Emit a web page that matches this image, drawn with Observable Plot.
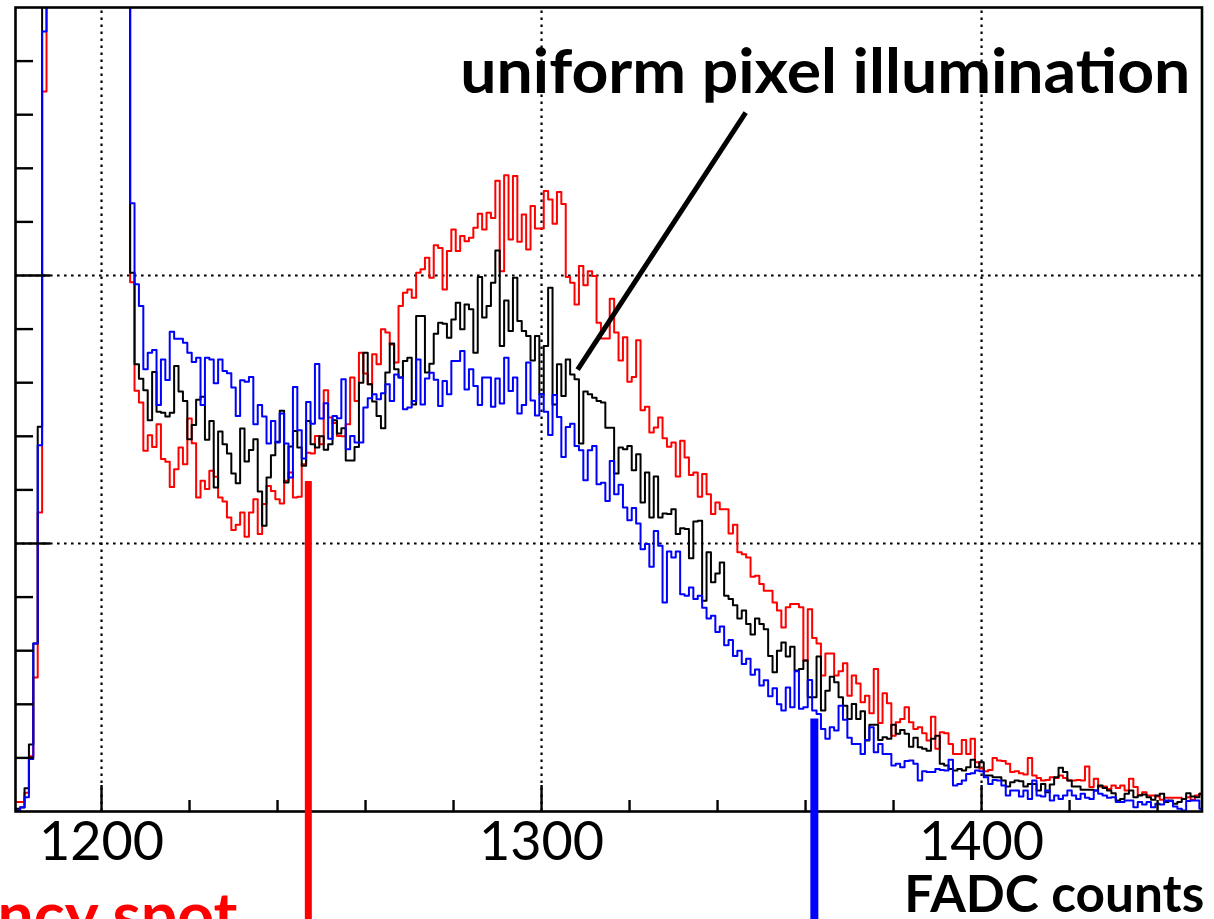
<!DOCTYPE html>
<html><head><meta charset="utf-8">
<script src="https://cdn.jsdelivr.net/npm/d3@7"></script>
<script src="https://cdn.jsdelivr.net/npm/@observablehq/plot@0.6"></script>
<style>html,body{margin:0;padding:0;background:#fff;} svg{display:block}</style>
</head><body><div id="chart"></div>
<script>
// FADC count of the first bin (bins are 1 count wide, centred on integers)
const firstBin = 1181;
// values above 300 are off scale (pedestal peak) and get clipped by the frame
const redCounts = [
3.5,3.5,7,20.6,50,111.6,268.7,1500,1500,1500,
1500,1500,1500,1500,1500,1500,1500,1500,1500,1500,
1500,1500,1500,1500,1500,1500,197.5,157,152.6,134.6,
140.4,136,144.5,131.5,130.5,121.1,127.7,135.8,129.6,146.6,
137.4,117.2,123.4,120.3,127.1,124.9,117.2,115.7,109.7,105,
107,111.6,102.5,111.6,116.5,103.5,114.7,121.5,119.6,116.5,
114.9,123.4,126.5,117.2,117.4,129.6,133.9,133.6,140.1,137,
157.2,147,145,140.1,140,144.5,161.9,153.2,171.2,163.4,
159.4,170.6,166.9,179.9,178.7,174.3,167.5,188.6,193.6,194.8,
191.7,201,202.3,206.6,199.2,211.3,210.3,194.8,209.1,217.2,
209.1,214.7,212.8,214.1,217.8,223,217.2,223.4,221.5,235.4,
201.6,237.4,213.4,237.1,212.6,222.8,209.7,225.9,217.5,217.5,
231.5,228.4,219.3,231.2,226.7,199.4,197.3,189.2,203.5,196.4,
201.6,199.8,182.4,176.5,176.5,191.3,178.7,168.3,177,160.4,
162.1,175.8,149.7,151,141.4,143.3,147,139.3,136.1,137.7,
125,138.3,132.1,125.6,126.5,117.4,125.9,118.4,111,115.3,
112.8,112.8,103.7,107,96.7,96,94.8,87.6,88,84.9,
82.4,82.4,78,75,68.7,76.2,77.4,77.4,76.2,56.3,
75.5,64.7,62.7,50.7,59,59,50.7,52.3,55.3,43.2,
50.7,47.8,40.8,43.2,36.7,53.2,33,44.1,40.4,28.3,
33.3,34.5,38.9,33.3,30.8,31.4,29.2,26.5,35.4,23.4,
29.6,29.2,25.2,21.5,21.5,26.7,21.5,27.1,18.4,16,
15,15.5,20,19,18.8,17.8,14.7,15,14.3,13.8,
20,13.4,12.5,11.6,11.8,12.8,12.5,13.4,12.5,11.6,
11.6,11.8,11.6,16.8,9.1,12.2,9.3,9.3,8.4,9.7,
8.8,9.7,7.8,12.2,9.1,6.2,7.2,6,6,5.6,
4.4,5.1,5.1,5.1,5.1,4.7,5.3,4.4,6,6.6
];
const blackCounts = [
1,1.5,8.7,25,62.7,143.6,1500,1500,1500,1500,
1500,1500,1500,1500,1500,1500,1500,1500,1500,1500,
1500,1500,1500,1500,1500,1500,201,166.9,161.5,157.2,
146,164,149.2,148.8,147.4,148.8,166.2,156.7,153.2,138.9,
144.2,153.6,154.8,138.7,145.7,120.9,141.8,137,133.6,126.1,
122.5,142.9,130.6,134.9,138.9,119.4,106.6,124.6,132.9,138,
149.5,122.8,136.2,142,135.8,129,145.7,137,135.8,140,
135,137,146,141,143,131,131,136,160,171.2,
159.4,153,147.6,143,163.8,174.6,165,161.9,168.1,169.3,
151.9,184.9,184.9,163.8,167.1,178.3,182.4,182,176.8,183.6,
189.8,179.9,189.2,187.4,171.2,199.4,184.3,188.6,197.3,209.3,
173.7,190.7,179.3,199.2,183,179.3,177.4,168.3,177.4,155.7,
173.7,195.4,151.9,166.9,155,168.7,163.1,161.3,137.3,156.7,
155.7,154.4,153.2,152.6,143.2,143.2,126.1,135.8,135.2,136.4,
127.3,133.3,115.3,126.5,109.7,125,109.7,111.2,111,112.8,
103.5,105.7,105.4,94.5,108.2,108.5,78.6,96.7,85.5,88.8,
92.9,80.5,79.3,77,72,75,70,66,72,70,
68,58,52,60,63.1,57.8,61.5,52.6,53.2,56.3,
42.6,42.6,57.8,37.7,45.1,50.3,48.2,42.6,39.5,34.5,
40.1,34.5,37.4,26.5,32.4,32.4,26.7,27.7,27.1,32.4,
29,30.4,29,24.2,27.5,24,23.4,22.7,27.1,28.3,
17.8,17.2,15.9,15.3,15.9,15.3,16.5,19.3,16.5,18.4,
13.4,13.4,12.8,12.8,11.6,9.3,10.9,11.6,11.3,9.3,
10.3,10.3,7.8,10.3,7.2,10.1,12.8,16.3,14.7,11.6,
9.3,9.3,8.1,8.1,8.1,7.8,9.7,8.8,7.8,6.8,
4.1,4.7,6.6,7.8,5.3,6,6.3,5.3,4.4,6,
6.6,3.5,4.1,2.9,3.5,4.7,6.8,5.6,5.3,6.6
];
const blueCounts = [
0.5,1.6,5.3,19.6,62.7,136.7,291,1500,1500,1500,
1500,1500,1500,1500,1500,1500,1500,1500,1500,1500,
1500,1500,1500,1500,1500,1500,227,196.7,188.6,165,
171.2,172.2,151.7,168.7,161,179,176.4,176.4,174.9,171.2,
167.7,169.3,151.7,169.3,168.7,159.8,168.7,164.4,163.5,158.2,
147.6,160.9,160.4,162.1,144.5,151.7,147.4,137.3,145.7,137.7,
148.5,137.3,124.6,158.4,142.3,131.7,152.8,144.7,167,146.6,
152.3,139.1,147.6,146.7,161.3,135.2,140.1,137.7,137.7,150.7,
154.2,155.7,153.8,156.1,159.4,153.2,163.1,161.9,150.1,150.7,
153.2,168.7,151.9,161.6,163.7,161.1,151.3,160.6,155.7,168.1,
168.1,171.8,157.5,165,158.8,151.7,161.9,161.9,151,161.6,
152.2,169.3,156.9,161.9,148.5,151.7,167.5,153.4,147.8,155.7,
149.2,140.5,155.4,147.2,132.3,143.5,144.7,136.4,134.8,123.6,
134.8,136.4,122.1,122.7,115.9,130.8,118.4,121.9,113.4,108.7,
113.2,107.5,97.9,99.8,91.3,104.7,99.2,78,97,94.8,
97,81.1,80.5,83.6,79.3,80.5,76,72,73,67,
69,62,64,58,60,55,57,51,53,47,
49,43,46,40,37.7,46.3,38.9,52.3,38.3,38.9,
49.1,37.7,36.4,30.8,27.1,31.4,30.2,39.5,34.2,27.5,
25.2,25.2,21.5,26.7,31.4,22.1,25.2,21.5,21.5,17.2,
17.8,16.5,18.8,19,17.8,11.6,15,14.7,14.7,15.9,
15.5,15.3,19.3,9.7,10.3,11.6,14,14.3,15.3,15,
12.8,10.3,11.8,11.6,9.7,6,7.8,7.8,5.6,7.8,
4.7,11.6,6,5.6,7.8,4.1,6,4.7,6,7.8,
6,4.7,6.6,5.1,4.7,7.8,6.6,6,5.1,5.3,
3.5,3.5,4.1,4.1,1.6,3.5,2.6,3.5,1.6,2.9,
2.6,4.1,3.9,1.9,1,0.4,3.9,4.1,4.1,1
];
const xMajorTicks = [1200, 1300, 1400];
const xMinorTicks = [1220, 1240, 1260, 1280, 1320, 1340, 1360, 1380, 1420, 1440];
const yGridTicks = [100, 200];
const yMinorTicks = [20, 40, 60, 80, 120, 140, 160, 180, 220, 240, 260, 280];
const redCut = [{x: 1247, top: 123.1}];
const blueCut = [{x: 1362, top: 34.5}];
const pointer = [{x1: 1308.2, y1: 164.9, x2: 1346.4, y2: 260.8}];
const titleText = ["uniform pixel illumination"];
const axisTitle = ["FADC counts"];
const redLabel = ["ncy spot"];

const xDomain = [1180.45, 1450.1];
const yDomain = [0, 300];

function steps(values, name) {
  const rows = values.map((v, i) => ({x: firstBin + i - 0.5, v, name}));
  rows.push({x: firstBin + values.length - 0.5, v: values[values.length - 1], name});
  return rows;
}

const chart = Plot.plot({
  width: 1214,
  height: 919,
  marginTop: 7,
  marginBottom: 108,
  marginLeft: 15,
  marginRight: 12.5,
  x: {domain: xDomain, axis: null},
  y: {domain: yDomain, axis: null},
  style: {fontFamily: "Lato, 'Open Sans', sans-serif", background: "#fff", overflow: "hidden"},
  marks: [
    // dotted grid
    Plot.ruleX(xMajorTicks, {x: d => d, y1: 0, y2: 300, stroke: "#000", strokeWidth: 2.2, strokeDasharray: "2.6,4.4"}),
    Plot.ruleY(yGridTicks, {y: d => d, x1: xDomain[0], x2: xDomain[1], stroke: "#000", strokeWidth: 2.2, strokeDasharray: "2.6,4.4"}),
    // histograms
    Plot.line(steps(redCounts, "red"), {x: "x", y: "v", curve: "step-after", stroke: "#ff0000", strokeWidth: 2, clip: true}),
    Plot.line(steps(blackCounts, "black"), {x: "x", y: "v", curve: "step-after", stroke: "#000000", strokeWidth: 2, clip: true}),
    Plot.line(steps(blueCounts, "blue"), {x: "x", y: "v", curve: "step-after", stroke: "#0000ff", strokeWidth: 2, clip: true}),
    // ticks (pointing inwards, ROOT style)
    Plot.ruleX(xMajorTicks, {x: d => d, y1: 0, y2: 9.7, stroke: "#000", strokeWidth: 2.4}),
    Plot.ruleX(xMinorTicks, {x: d => d, y1: 0, y2: 4.1, stroke: "#000", strokeWidth: 2.4}),
    Plot.ruleY(yGridTicks, {y: d => d, x1: xDomain[0], x2: xDomain[0] + 8, stroke: "#000", strokeWidth: 2.4}),
    Plot.ruleY(yMinorTicks, {y: d => d, x1: xDomain[0], x2: xDomain[0] + 4.1, stroke: "#000", strokeWidth: 2.4}),
    Plot.frame({stroke: "#000", strokeWidth: 2.6}),
    // threshold markers
    Plot.ruleX(redCut, {x: "x", y1: "top", y2: -41, stroke: "#ff0000", strokeWidth: 7}),
    Plot.ruleX(blueCut, {x: "x", y1: "top", y2: -41, stroke: "#0000ff", strokeWidth: 8}),
    Plot.link(pointer, {x1: "x1", y1: "y1", x2: "x2", y2: "y2", stroke: "#000", strokeWidth: 5}),
    // texts
    Plot.text(xMajorTicks, {x: d => d, y: -11.5, text: d => String(d), fontSize: 54, fill: "#000", lineAnchor: "middle"}),
    Plot.text(titleText, {x: 1364.5, y: 275.4, text: d => d, fontSize: 62, fontWeight: "bold", fill: "#000", lineAnchor: "middle"}),
    Plot.text(axisTitle, {x: 1450.6, y: -31.2, text: d => d, fontSize: 52, fontWeight: "bold", fill: "#000", textAnchor: "end", lineAnchor: "middle"}),
    Plot.text(redLabel, {x: 1230.9, y: -39.5, text: d => d, fontSize: 64, fontWeight: "bold", fill: "#ff0000", textAnchor: "end", lineAnchor: "middle"})
  ]
});
// stretch the bold labels to the widths they take in the original (Calibri-like, narrower glyphs)
const fitWidths = new Map([[titleText[0], 730], [axisTitle[0], 300], [redLabel[0], 240]]);
d3.select(chart).selectAll("text").each(function () {
  const w = fitWidths.get(this.textContent);
  if (w) d3.select(this).attr("textLength", w).attr("lengthAdjust", "spacingAndGlyphs");
});
document.getElementById("chart").appendChild(chart);
</script>
</body></html>
